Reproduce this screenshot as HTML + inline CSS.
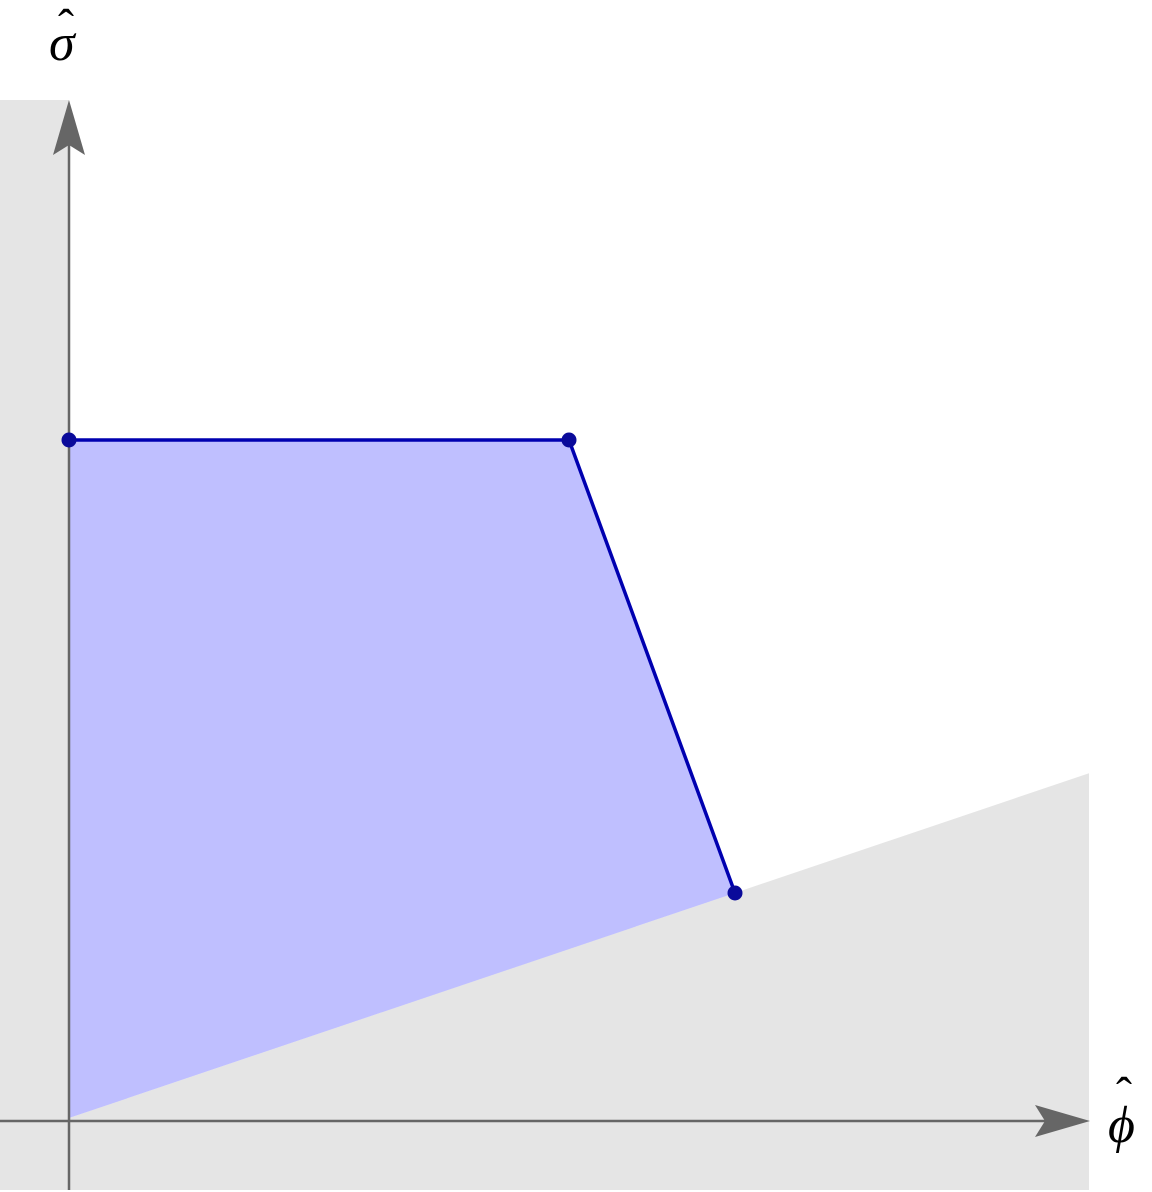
<!DOCTYPE html>
<html><head><meta charset="utf-8">
<style>
html,body{margin:0;padding:0;background:#fff;}
svg{display:block;}
text{font-family:"Liberation Serif",serif;font-style:italic;}
</style></head>
<body>
<svg id="chart" width="1152" height="1192" viewBox="0 0 1152 1192" xmlns="http://www.w3.org/2000/svg">
<g id="bg"></g>
<g id="poly"></g>
<g id="axes"></g>
<g id="pts"></g>
<g>
<text x="49" y="60" font-size="52">σ</text>
<text x="58" y="42" font-size="48" style="font-style:normal">ˆ</text>
</g>
<g>
<text x="1108" y="1142" font-size="52">ϕ</text>
<text x="1116" y="1110" font-size="48" style="font-style:normal">ˆ</text>
</g>
</svg>
<script>
const vertexX = [0, 5.0, 6.66];
const vertexY = [6.78, 6.78, 2.25];
const boundarySlope = [0.338];
const xMax = [10.2];

const ox = 69, oy = 1118, s = 100;
const X = v => ox + v * s;
const Y = v => oy - v * s;
const NS = "http://www.w3.org/2000/svg";
function mk(tag, parent, attrs){const e=document.createElementNS(NS,tag);for(const k in attrs)e.setAttribute(k,attrs[k]);parent.appendChild(e);return e;}

const bg = document.getElementById('bg');
const lineEndY = Y(boundarySlope[0] * xMax[0]);
const g = mk('path', bg, {d:`M0 100 L${ox} 100 L${ox} ${oy} L${X(xMax[0])} ${lineEndY} L${X(xMax[0])} 1190 L0 1190 Z`, fill:'#e5e5e5'});



const poly = document.getElementById('poly');
let d = `M${X(0)} ${Y(0)}`;
for (let i=0;i<vertexX.length;i++) d += ` L${X(vertexX[i])} ${Y(vertexY[i])}`;
d += ' Z';
const p = mk('path', poly, {d, fill:'#bfbfff'});


let ld = '';
for (let i=0;i<vertexX.length;i++) ld += (i?' L':'M') + X(vertexX[i]) + ' ' + Y(vertexY[i]);
const pl = mk('path', poly, {d:ld, fill:'none', stroke:'#0000b0', 'stroke-width':3.5});



const ax = document.getElementById('axes');
const xa = mk('line', ax, {x1:0, y1:1121, x2:1045, y2:1121, stroke:'#666', 'stroke-width':2.5});


const xh = mk('path', ax, {d:'M1090 1121 L1035 1105 L1045 1121 L1035 1137 Z', fill:'#666'});


const ya = mk('line', ax, {x1:69, y1:1190, x2:69, y2:145, stroke:'#666', 'stroke-width':2.5});


const yh = mk('path', ax, {d:'M69 100 L53 155 L69 145 L85 155 Z', fill:'#666'});



const pts = document.getElementById('pts');
for (let i=0;i<vertexX.length;i++){
  const c = mk('circle', pts, {cx:X(vertexX[i]), cy:Y(vertexY[i]), r:7.5, fill:'#0a0a9a'});
  
  
}
</script>
</body></html>
